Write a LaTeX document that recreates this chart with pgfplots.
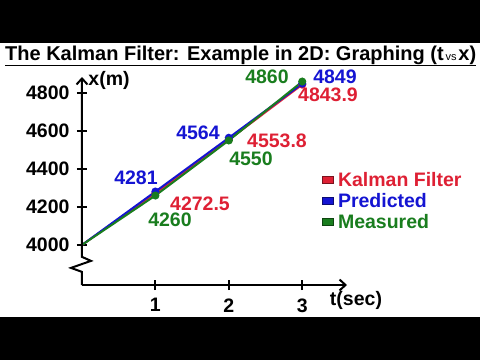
\documentclass[border=0pt]{standalone}
\usepackage{pgfplots}
\pgfplotsset{compat=1.18}
\usetikzlibrary{arrows.meta}
\usepackage{fontspec}
\setmainfont{Liberation Sans}
\definecolor{kred}{RGB}{222,32,52}
\definecolor{kblue}{RGB}{20,20,210}
\definecolor{kgreen}{RGB}{25,125,30}
\newcommand{\lf}{\bfseries\fontsize{19.5}{19.5}\selectfont}
\begin{document}
\begin{tikzpicture}[x=1pt,y=1pt]
\useasboundingbox (0,0) rectangle (480,360);
\fill[black] (0,317) rectangle (480,360);
\fill[black] (0,0) rectangle (480,43);
\node[anchor=base west, inner sep=0pt] at (5,300) {\bfseries\fontsize{20}{20}\selectfont\underline{The Kalman Filter: Example in 2D: Graphing (t{\mdseries\fontsize{11}{11}\selectfont\,vs\,}x)}};
\begin{axis}[
  at={(82pt,75pt)}, anchor=south west, scale only axis,
  width=265pt, height=208pt,
  xmin=0, xmax=3.61, ymin=3789, ymax=4884,
  axis lines=left, clip=false,
  x axis line style={line width=2pt, -{Straight Barb[length=6pt,width=11pt]}},
  y axis line style={draw=none},
  xtick={1,2,3}, ytick={4000,4200,4400,4600,4800},
  tick align=center, major tick length=10pt,
  tick style={black, line width=2pt},
  ticklabel style={font=\lf},
  xticklabel style={yshift=-5pt},
  yticklabel style={xshift=-4pt},
  /pgf/number format/assume math mode=true,
  /pgf/number format/1000 sep={},
  legend style={at={(0.905,0.548)}, anchor=north west, draw=none, fill=none,
    inner sep=0pt, row sep=3.5pt, font=\lf, nodes={inner sep=1pt}},
  legend cell align=left,
]
\addplot[kred, line width=2pt, mark=*, mark size=3pt, mark indices={2,3,4},
  legend image code/.code={\draw[fill=kred, draw=kred!55!black, line width=1pt] (0pt,-3.5pt) rectangle (11pt,3.5pt);}]
  coordinates {(0,4000)(1,4272.5)(2,4553.8)(3,4843.9)};
\addlegendentry{\hspace{3pt}\textcolor{kred}{Kalman Filter}}
\addplot[kblue, line width=2pt, mark=*, mark size=3pt, mark indices={2,3,4},
  legend image code/.code={\draw[fill=kblue, draw=kblue!55!black, line width=1pt] (0pt,-3.5pt) rectangle (11pt,3.5pt);}]
  coordinates {(0,4000)(1,4281)(2,4564)(3,4849)};
\addlegendentry{\hspace{3pt}\textcolor{kblue}{Predicted}}
\addplot[kgreen, line width=2pt, mark=*, mark size=3pt, mark indices={2,3,4},
  legend image code/.code={\draw[fill=kgreen, draw=kgreen!55!black, line width=1pt] (0pt,-3.5pt) rectangle (11pt,3.5pt);}]
  coordinates {(0,4000)(1,4260)(2,4550)(3,4860)};
\addlegendentry{\hspace{3pt}\textcolor{kgreen}{Measured}}
\draw[line width=2pt, -{Straight Barb[length=6pt,width=11pt]}]
  (axis cs:0,3789) -- (axis cs:0,3858) -- ([xshift=-11pt]axis cs:0,3879)
  -- ([xshift=9pt]axis cs:0,3916) -- (axis cs:0,3937) -- (axis cs:0,4884);
\end{axis}
\node[font=\lf, kblue] at (136,182) {4281};
\node[font=\lf, kgreen] at (170,140) {4260};
\node[font=\lf, kred] at (200,156) {4272.5};
\node[font=\lf, kblue] at (198,227) {4564};
\node[font=\lf, kred] at (277,219) {4553.8};
\node[font=\lf, kgreen] at (251,201) {4550};
\node[font=\lf, kgreen] at (267,283) {4860};
\node[font=\lf, kblue] at (335,283) {4849};
\node[font=\lf, kred] at (328,265) {4843.9};
\node[font=\lf] at (109,280) {x(m)};
\node[font=\lf] at (356,60) {t(sec)};
\end{tikzpicture}
\end{document}
